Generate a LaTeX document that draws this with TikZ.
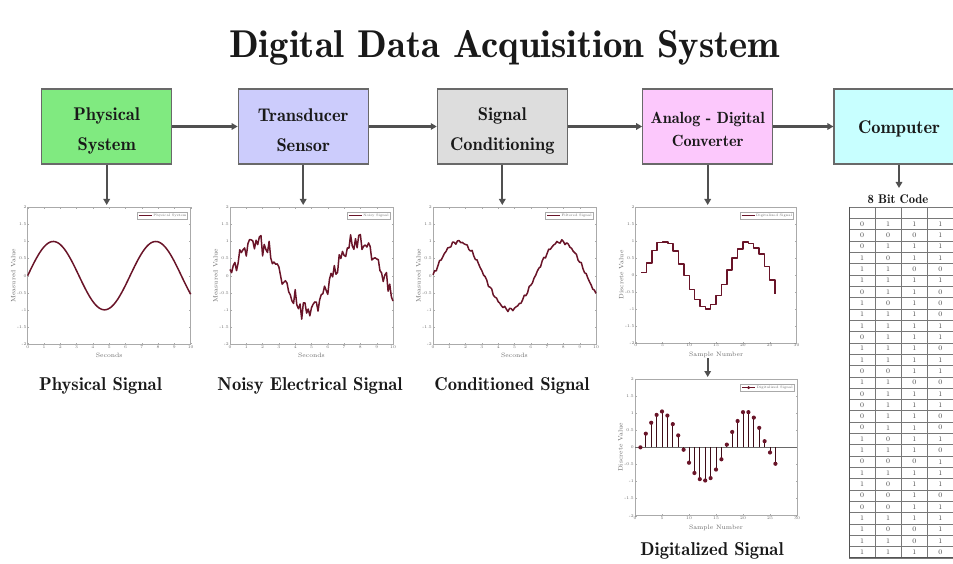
\documentclass[tikz,border=0pt]{standalone}
\usetikzlibrary{arrows.meta}
\definecolor{cgreen}{RGB}{128,234,128}
\definecolor{clav}{RGB}{204,204,252}
\definecolor{cgray}{RGB}{221,221,221}
\definecolor{cpink}{RGB}{252,200,252}
\definecolor{ccyan}{RGB}{200,255,255}
\definecolor{boxline}{RGB}{105,105,105}
\definecolor{arrc}{RGB}{80,80,80}
\definecolor{sigc}{RGB}{105,20,40}
\definecolor{axc}{RGB}{170,170,170}
\definecolor{labc}{RGB}{105,105,105}
\definecolor{txtc}{RGB}{25,25,25}
\definecolor{gridc}{RGB}{120,120,120}
\tikzset{
  box/.style={draw=boxline, line width=1.1pt, minimum width=130pt, minimum height=75pt, inner sep=0pt},
  boxtext/.style={align=center, font=\fontsize{18.4}{29.7}\fontseries{b}\selectfont, text=txtc, inner sep=0pt},
  flow/.style={draw=arrc, line width=2.2pt, -{Triangle[length=6pt,width=6.5pt]}},
  pframe/.style={draw=axc, line width=0.5pt},
  ptick/.style={draw=axc, line width=0.3pt},
  ticklab/.style={font=\fontsize{4.2}{5}\selectfont, text=labc, inner sep=1pt},
  axlab/.style={font=\fontsize{6.3}{7}\selectfont, text=labc, inner sep=0pt},
  sig/.style={draw=sigc, line width=1.5pt, line join=round},
  stemline/.style={draw=sigc!60!black, line width=0.7pt},
  leg/.style={draw=axc, line width=0.3pt, fill=white, font=\fontsize{3.4}{4}\selectfont, text=labc, inner sep=1.2pt, minimum height=7pt},
  caption/.style={font=\fontsize{18.6}{21}\fontseries{b}\selectfont, text=txtc},
  cell/.style={font=\fontsize{7}{8}\selectfont, text=txtc!80, inner sep=0pt},
  tgrid/.style={draw=gridc, line width=0.6pt}
}
\newcommand\plotframe[4]{%
  \draw[pframe] (0,-2) rectangle (#1,2);
  \foreach \tv in {2,1.5,1,0.5,0,-0.5,-1,-1.5,-2}{
    \draw[ptick] (0,\tv) -- ++(1.5pt,0) (#1,\tv) -- ++(-1.5pt,0);
    \node[ticklab, anchor=east] at (0,\tv) {\tv};}
  \foreach \tv in {#2}{
    \draw[ptick] (\tv,-2) -- ++(0,1.5pt) (\tv,2) -- ++(0,-1.5pt);
    \node[ticklab, anchor=north] at (\tv,-2) {\tv};}
  \node[axlab, anchor=north] at ([yshift=-9pt]{#1/2},-2) {#3};
  \node[axlab, rotate=90, anchor=south] at ([xshift=-12pt]0,0) {#4};
}
\begin{document}
\begin{tikzpicture}[x=1pt, y=-1pt]
\useasboundingbox (0,0) rectangle (953,564);

% title
\node[font=\fontsize{38.8}{42}\fontseries{b}\selectfont, text=txtc, anchor=base] (title) at (504.7,58) {Digital Data Acquisition System};

% boxes
\node[box, fill=cgreen] (b1) at (106.7,126.5) {};
\node[box, fill=clav]   (b2) at (303.2,126.5) {};
\node[box, fill=cgray]  (b3) at (502.3,126.5) {};
\node[box, fill=cpink]  (b4) at (707.7,126.5) {};
\node[box, fill=ccyan]  (b5) at (899,126.5) {};
\node[boxtext] (t1) at ([yshift=-4.5pt]b1.center) {Physical\\System};
\node[boxtext] (t2) at ([yshift=-3.5pt]b2.center) {Transducer\\Sensor};
\node[boxtext] (t3) at ([yshift=-4.5pt]b3.center) {Signal\\Conditioning};
\node[boxtext, font=\fontsize{16.2}{23}\fontseries{b}\selectfont] (t4) at ([yshift=-2.5pt]b4.center) {Analog - Digital\\Converter};
\node[boxtext] (t5) at ([yshift=-2.5pt]b5.center) {Computer};

\draw[flow] (b1) -- (b2);
\draw[flow] (b2) -- (b3);
\draw[flow] (b3) -- (b4);
\draw[flow] (b4) -- (b5);

\coordinate (p1) at (106.7,205);
\coordinate (p2) at (303.2,205);
\coordinate (p3) at (502.3,205);
\coordinate (p4) at (707.7,205);
\coordinate (tb) at (899,188);
\coordinate (q4) at (707.7,358);
\coordinate (q5) at (707.7,377);
\draw[flow] (b1) -- (p1);
\draw[flow] (b2) -- (p2);
\draw[flow] (b3) -- (p3);
\draw[flow] (b4) -- (p4);
\draw[flow] (b5) -- (tb);
\draw[flow] (q4) -- (q5);

% plot 1
\begin{scope}[shift={(27.7,275.65)}, x=16.3pt, y=34.18pt]
  \plotframe{10}{0,1,...,10}{Seconds}{Measured Value}
  \draw[sig] plot[domain=0:10, samples=120] (\x, {sin(deg(\x))});
  \node[leg, anchor=north east] (l1) at ([xshift=-3pt,yshift=-5pt]10,2) {\hspace*{15pt}Physical System};
  \draw[sig, line width=1pt] ([xshift=2pt]l1.west) -- ++(13pt,0);
\end{scope}

% plot 2
\begin{scope}[shift={(230,275.65)}, x=16.3pt, y=34.18pt]
  \plotframe{10}{0,1,...,10}{Seconds}{Measured Value}
  \draw[sig] plot[domain=0:10, samples=101] (\x, {sin(deg(\x)) + 0.14*sin(647*\x) + 0.11*sin(1358*\x+57) + 0.09*sin(1171*\x+115) + 0.07*sin(1493*\x+172)});
  \node[leg, anchor=north east] (l2) at ([xshift=-3pt,yshift=-5pt]10,2) {\hspace*{15pt}Noisy Signal};
  \draw[sig, line width=1pt] ([xshift=2pt]l2.west) -- ++(13pt,0);
\end{scope}

% plot 3
\begin{scope}[shift={(433,275.65)}, x=16.3pt, y=34.18pt]
  \plotframe{10}{0,1,...,10}{Seconds}{Measured Value}
  \draw[sig] plot[domain=0:10, samples=101] (\x, {0.08*cos(deg(\x)) + sin(deg(\x-0.08)) + 0.035*sin(1237*\x) + 0.03*sin(913*\x+57)});
  \node[leg, anchor=north east] (l3) at ([xshift=-3pt,yshift=-5pt]10,2) {\hspace*{15pt}Filtered Signal};
  \draw[sig, line width=1pt] ([xshift=2pt]l3.west) -- ++(13pt,0);
\end{scope}

% plot 4
\begin{scope}[shift={(635.7,275)}, x=5.36pt, y=34.0pt]
  \plotframe{30}{0,5,...,30}{Sample Number}{Discrete Value}
  \draw[sig] plot[const plot] coordinates {(1,0.08) (2,0.35) (3,0.72) (4,0.95) (5,0.97) (6,0.93) (7,0.7) (8,0.32) (9,-0.02) (10,-0.42) (11,-0.72) (12,-0.93) (13,-1.0) (14,-0.87) (15,-0.6) (16,-0.28) (17,0.15) (18,0.5) (19,0.77) (20,0.97) (21,0.93) (22,0.8) (23,0.62) (24,0.25) (25,-0.15) (26,-0.57)};
  \node[leg, anchor=north east] (l4) at ([xshift=-3pt,yshift=-5pt]30,2) {\hspace*{15pt}Digitalized Signal};
  \draw[sig, line width=1pt] ([xshift=2pt]l4.west) -- ++(13pt,0);
\end{scope}

% plot 5
\begin{scope}[shift={(635,447.35)}, x=5.4pt, y=34.18pt]
  \plotframe{30}{0,5,...,30}{Sample Number}{Discrete Value}
  \draw[draw=labc, line width=0.5pt] (0,0) -- (30,0);
  \foreach \n/\v in {1/0,2/0.4,3/0.72,4/0.95,5/1.05,6/0.93,7/0.68,8/0.35,9/-0.07,10/-0.45,11/-0.75,12/-0.93,13/-0.97,14/-0.9,15/-0.65,16/-0.35,17/0.08,18/0.45,19/0.77,20/1.03,21/1.03,22/0.87,23/0.57,24/0.18,25/-0.15,26/-0.48}{
    \draw[stemline] (\n,0) -- (\n,\v);
    \fill[sigc] (\n,\v) circle (2.1pt);}
  \node[leg, anchor=north east] (l5) at ([xshift=-3pt,yshift=-5pt]30,2) {\hspace*{15pt}Digitalized Signal};
  \draw[sig, line width=1pt] ([xshift=2pt]l5.west) -- ++(13pt,0);
  \fill[sigc] ([xshift=8.5pt]l5.west) circle (1.6pt);
\end{scope}

% captions
\node[caption] (c1) at (100.5,386) {Physical Signal};
\node[caption] (c2) at (310,386) {Noisy Electrical Signal};
\node[caption] (c3) at (512,386) {Conditioned Signal};
\node[caption] (c5) at (712,551) {Digitalized Signal};

% table
\node[font=\fontsize{12.6}{14}\fontseries{b}\selectfont, text=txtc, anchor=base] (code) at (898,204) {8 Bit Code};
\begin{scope}[shift={(849,207)}, x=26.1pt, y=-11.32pt]
  \foreach \r in {0,...,31}{\draw[tgrid] (0,\r) -- (4.1,\r);}
  \foreach \c in {0,...,4}{\draw[tgrid] (\c,0) -- (\c,31);}
  \draw[draw=gridc!70!black, line width=0.9pt] (0,0) -- (0,31) -- (4.1,31);
  \foreach \r/\a/\b/\c/\d in {1/0/1/1/1,2/0/0/0/1,3/0/1/1/1,4/1/0/1/1,5/1/1/0/0,6/1/1/1/1,7/0/1/1/0,8/1/0/1/0,9/1/1/1/0,10/1/1/1/1,11/0/1/1/1,12/1/1/1/0,13/1/1/1/1,14/0/0/1/1,15/1/1/0/0,16/0/1/1/1,17/0/1/1/1,18/0/1/1/0,19/0/1/1/0,20/1/0/1/1,21/1/1/1/0,22/0/0/0/1,23/1/1/1/1,24/1/0/1/1,25/0/0/1/0,26/0/0/1/1,27/1/1/1/1,28/1/0/0/1,29/1/1/0/1,30/1/1/1/0}{
    \node[cell] (r\r a) at (0.5,\r+0.5) {\a};
    \node[cell] (r\r b) at (1.5,\r+0.5) {\b};
    \node[cell] (r\r c) at (2.5,\r+0.5) {\c};
    \node[cell] (r\r d) at (3.5,\r+0.5) {\d};}
\end{scope}
\end{tikzpicture}
\end{document}
